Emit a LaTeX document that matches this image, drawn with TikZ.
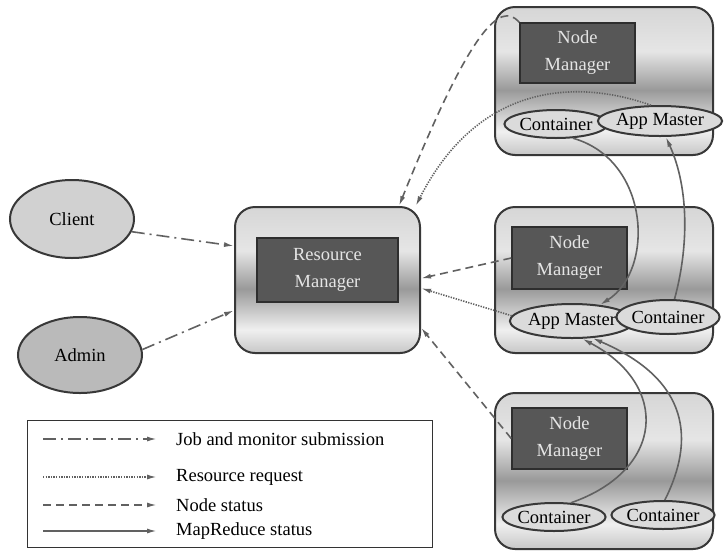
\documentclass[tikz,border=0pt]{standalone}
\usepackage{fontspec}
\setmainfont{Liberation Serif}
\usetikzlibrary{shapes.geometric,arrows.meta}
% light box with a darker band across the middle
\pgfdeclareverticalshading{box shade}{100bp}{color(0bp)=(black!22); color(25bp)=(black!22); color(33bp)=(black!6); color(47bp)=(black!40); color(60bp)=(black!10); color(75bp)=(black!16); color(100bp)=(black!16)}

\begin{document}
\begin{tikzpicture}[x=1pt,y=-1pt,font=\fontsize{18.5}{27}\selectfont]
\tikzset{
% Boxes and ovals
outer box/.style={rectangle,rounded corners=20pt,draw=black!78,line width=2pt,shade,shading=box shade,inner sep=0},
inner box/.style={rectangle,draw=black!82,line width=1.5pt,fill=black!66,text=white!90!black,align=center,inner sep=0},
big oval/.style={ellipse,draw=black!78,line width=2pt,inner sep=0},
small oval/.style={ellipse,draw=black!78,line width=2pt,fill=black!14,inner sep=0},
% Connector styles
link/.style={draw=black!62,line width=1.6pt,-{Latex[length=10pt,width=5pt]}},
job line/.style={link,dash pattern=on 13pt off 5pt on 2pt off 5pt},
request line/.style={link,dash pattern=on 1.3pt off 1.3pt},
status line/.style={link,dash pattern=on 8pt off 5pt},
mr line/.style={link}
}
\fill[white] (0,0) rectangle (728,555);
\useasboundingbox (0,0) rectangle (728,555);
% Clients
\node(client)[big oval,fill=black!18,minimum width=124pt,minimum height=78pt] at (72,219) {Client};
\node(admin)[big oval,fill=black!27,minimum width=124pt,minimum height=76pt] at (80,355) {Admin};
% Resource manager
\node(rm)[outer box,minimum width=185pt,minimum height=146pt] at (327.5,280) {};
\node(rmi)[inner box,minimum width=141pt,minimum height=64pt] at (327.5,270) {Resource\\Manager};
% Node managers
\node(nm1)[outer box,minimum width=218pt,minimum height=148pt] at (604,81) {};
\node(nm1i)[inner box,minimum width=115pt,minimum height=60pt] at (577.5,53) {Node\\Manager};
\node(c1)[small oval,minimum width=82pt,minimum height=28pt] at (556,124) {Container};
\node(am1)[small oval,minimum width=86pt,minimum height=30pt] at (660,121) {App Master};

\node(nm2)[outer box,minimum width=218pt,minimum height=146pt] at (604,280) {};
\node(nm2i)[inner box,minimum width=115pt,minimum height=62pt] at (569.5,258) {Node\\Manager};
\node(am2)[small oval,minimum width=82pt,minimum height=34pt] at (572,321) {App Master};
\node(c2)[small oval,minimum width=82pt,minimum height=34pt] at (668,317) {Container};

\node(nm3)[outer box,minimum width=218pt,minimum height=156pt] at (604,471) {};
\node(nm3i)[inner box,minimum width=115pt,minimum height=61pt] at (569.5,438.5) {Node\\Manager};
\node(c3a)[small oval,minimum width=74pt,minimum height=28pt] at (554,517) {Container};
\node(c3b)[small oval,minimum width=90pt,minimum height=28pt] at (663,515) {Container};

% Job and monitor submission
\draw[job line] (client.-12) -- (rm.160);
\draw[job line] (admin.5) -- (rm.198);
% Node status
\draw[status line] (nm1i.north west) .. controls (500,0) and (470,30) .. (rm.46);
\draw[status line] (nm2i.west) -- (rm.1);
\draw[status line] (nm3i.west) -- (rm.-27);
% Resource request
\draw[request line] (am1.120) .. controls (580,80) and (480,80) .. (rm.40);
\draw[request line] (am2.175) -- (rm.-5);
% MapReduce status
\draw[mr line] (c1.-40) .. controls (650,160) and (655,270) .. (am2.30);
\draw[mr line] (c2.70) .. controls (688,250) and (690,190) .. (am1.-70);
\draw[mr line] (c3a.40) .. controls (665,470) and (670,385) .. (am2.-60);
\draw[mr line] (c3b.83) .. controls (695,440) and (690,380) .. (am2.-40);

% Legend
\node(legend)[rectangle,draw=black!80,line width=1pt,fill=white,minimum width=405pt,minimum height=127pt,inner sep=0] at (229.5,483.5) {};
\coordinate(ja) at (43,439); \coordinate(jb) at (157,439);
\coordinate(ra) at (43,477); \coordinate(rb) at (157,477);
\coordinate(sa) at (43,505); \coordinate(sb) at (157,505);
\coordinate(ma) at (43,531); \coordinate(mb) at (157,531);
\draw[job line] (ja) -- (jb);
\draw[request line] (ra) -- (rb);
\draw[status line] (sa) -- (sb);
\draw[mr line] (ma) -- (mb);
\node(jt)[anchor=west,inner sep=0] at (176,439) {Job and monitor submission};
\node(rt)[anchor=west,inner sep=0] at (176,477) {Resource request};
\node(st)[anchor=west,inner sep=0] at (176,505) {Node status};
\node(mt)[anchor=west,inner sep=0] at (176,531) {MapReduce status};
\end{tikzpicture}
\end{document}
